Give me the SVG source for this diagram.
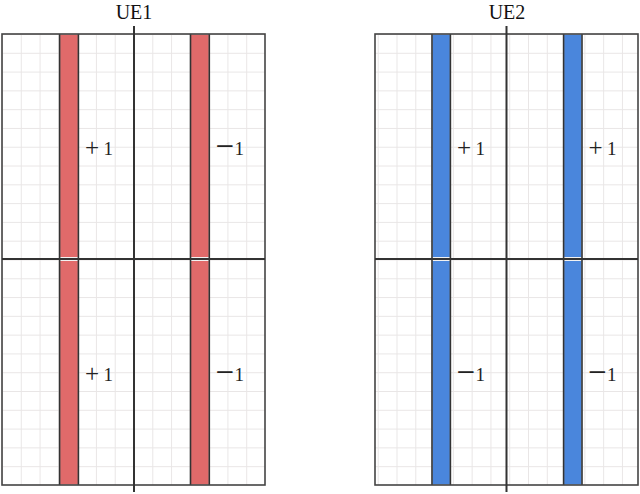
<svg xmlns="http://www.w3.org/2000/svg" width="640" height="494" viewBox="0 0 640 494">
<style>
.frame{fill:none;stroke:#444;stroke-width:1.6}
.axis{stroke:#333;stroke-width:2;fill:none}
.barR{fill:#e06a6a;stroke:#f2f2f2;stroke-width:1}
.barB{fill:#4a86dc;stroke:#f2f2f2;stroke-width:1}
.edge{stroke:#333;stroke-width:1.6}
.title{font-family:"Liberation Serif",serif;font-size:20px;fill:#111;text-anchor:middle}
.lbl{font-family:"Liberation Serif",serif;font-size:19px;fill:#222}
.pl{font-size:25px}
.mn{font-size:33px}
</style>
<defs>
<pattern id="gp" x="2" y="34" width="18.786" height="18.79" patternUnits="userSpaceOnUse">
<path d="M0.5 0V18.79M0 0.5H18.786" stroke="#e9e6e6" stroke-width="1" fill="none"/>
</pattern>
</defs>
<rect width="640" height="494" fill="#fff"/>
<g id="ue1">
<text class="title" x="134" y="19">UE1</text>
<rect x="2" y="34" width="263" height="451" fill="url(#gp)"/>
<g id="ue1-bar1">
<rect class="barR" x="59.6" y="34" width="18.8" height="223.5"/>
<rect class="barR" x="59.6" y="260.5" width="18.8" height="224.5"/>
<line class="edge" x1="59.6" y1="34" x2="59.6" y2="485"/>
<line class="edge" x1="78.4" y1="34" x2="78.4" y2="485"/>
</g>
<g id="ue1-bar2">
<rect class="barR" x="190.5" y="34" width="18.8" height="223.5"/>
<rect class="barR" x="190.5" y="260.5" width="18.8" height="224.5"/>
<line class="edge" x1="190.5" y1="34" x2="190.5" y2="485"/>
<line class="edge" x1="209.3" y1="34" x2="209.3" y2="485"/>
</g>
<rect class="frame" x="2" y="34" width="263" height="451"/>
<line class="axis" x1="134" y1="26" x2="134" y2="492"/>
<line class="axis" x1="2" y1="259" x2="265" y2="259"/>
<text class="lbl" y="155"><tspan class="pl" x="85" dy="1">+</tspan><tspan x="103.5" dy="-1">1</tspan></text>
<text class="lbl" y="155"><tspan class="mn" x="215.5" dy="2">−</tspan><tspan x="234.5" dy="-2">1</tspan></text>
<text class="lbl" y="381"><tspan class="pl" x="85" dy="1">+</tspan><tspan x="103.5" dy="-1">1</tspan></text>
<text class="lbl" y="381"><tspan class="mn" x="215.5" dy="2">−</tspan><tspan x="234.5" dy="-2">1</tspan></text>
</g>
<g id="ue2">
<text class="title" x="507" y="19">UE2</text>
<rect x="375" y="34" width="263" height="451" fill="url(#gp)"/>
<g id="ue2-bar1">
<rect class="barB" x="432" y="34" width="18.4" height="223.5"/>
<rect class="barB" x="432" y="260.5" width="18.4" height="224.5"/>
<line class="edge" x1="432" y1="34" x2="432" y2="485"/>
<line class="edge" x1="450.4" y1="34" x2="450.4" y2="485"/>
</g>
<g id="ue2-bar2">
<rect class="barB" x="563.6" y="34" width="18.4" height="223.5"/>
<rect class="barB" x="563.6" y="260.5" width="18.4" height="224.5"/>
<line class="edge" x1="563.6" y1="34" x2="563.6" y2="485"/>
<line class="edge" x1="582" y1="34" x2="582" y2="485"/>
</g>
<rect class="frame" x="375" y="34" width="263" height="451"/>
<line class="axis" x1="506.5" y1="26" x2="506.5" y2="492"/>
<line class="axis" x1="375" y1="259" x2="638" y2="259"/>
<text class="lbl" y="155"><tspan class="pl" x="457" dy="1">+</tspan><tspan x="475.5" dy="-1">1</tspan></text>
<text class="lbl" y="155"><tspan class="pl" x="588.5" dy="1">+</tspan><tspan x="607" dy="-1">1</tspan></text>
<text class="lbl" y="381"><tspan class="mn" x="456.5" dy="2">−</tspan><tspan x="475.5" dy="-2">1</tspan></text>
<text class="lbl" y="381"><tspan class="mn" x="588" dy="2">−</tspan><tspan x="607" dy="-2">1</tspan></text>
</g>
<g id="connectors"/>
</svg>
